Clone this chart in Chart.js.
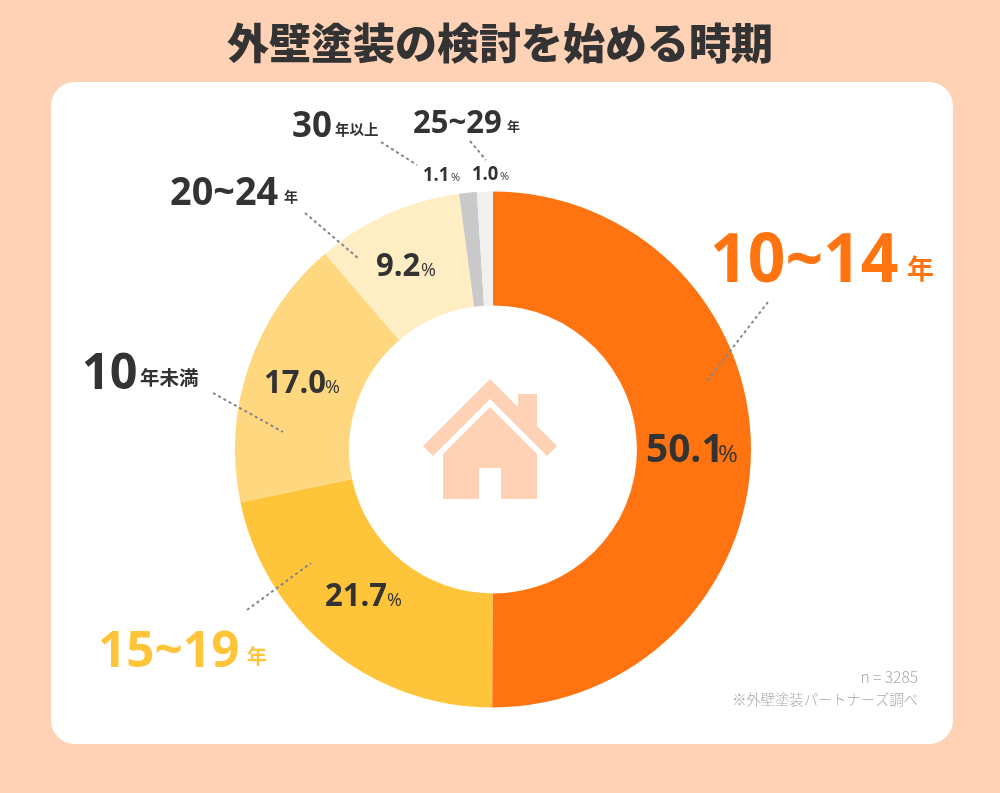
<!DOCTYPE html>
<html lang="ja">
<head>
<meta charset="utf-8">
<script src="https://cdn.jsdelivr.net/npm/chart.js@4"></script>
<style>
  body { margin: 0; background: #ffd2b5; }
  #card { position: absolute; left: 51px; top: 82px; width: 902px; height: 662px; background: #fff; border-radius: 24px; }
  #chart { position: absolute; left: 0; top: 0; }
</style>
</head>
<body>
<div id="card"></div>
<canvas id="chart" width="1000" height="793"></canvas>
<script>
const categories = ["10~14", "15~19", "10", "20~24", "30", "25~29"];
const units = ["年", "年", "年未満", "年", "年以上", "年"];
const values = [50.1, 21.7, 17.0, 9.2, 1.1, 1.0];
const colors = ["#ff7411", "#ffc53a", "#ffd77f", "#ffedc4", "#c9c9c9", "#f0f0f0"];
const titleText = "外壁塗装の検討を始める時期";
const noteLines = ["n = 3285", "※外壁塗装パートナーズ調べ"];

const JP = '"Noto Sans CJK JP", "Noto Sans", sans-serif';
const NUM = '"Open Sans", "Noto Sans", sans-serif';
const DARK = "#333333";
const CONDENSE = 0.97;

// hand placed, the reference labels do not follow the arcs
const nameLayout = [
  { x: 710, y: 282, size: 68, ux: 907, uy: 279, usize: 27, color: "#ff7411" },
  { x: 98, y: 667, size: 51, ux: 247, uy: 664, usize: 20, color: "#ffc53a" },
  { x: 82, y: 389, size: 50, ux: 140, uy: 384.5, usize: 19.5, color: DARK },
  { x: 170, y: 205, size: 39, ux: 284, uy: 202, usize: 14, color: DARK },
  { x: 292, y: 137, size: 36, ux: 335, uy: 135, usize: 14.5, color: DARK },
  { x: 413, y: 133, size: 32, ux: 507, uy: 131, usize: 13, color: DARK },
];
const pctLayout = [
  { x: 646, y: 462, size: 40, px: 718, psize: 24 },
  { x: 325, y: 606, size: 32, px: 387, psize: 18 },
  { x: 264, y: 393, size: 32, px: 325, psize: 18 },
  { x: 376, y: 276, size: 32, px: 421, psize: 18 },
  { x: 423, y: 181, size: 19, px: 451, psize: 11 },
  { x: 472, y: 180, size: 19, px: 500, psize: 11 },
];
const leaders = [
  [768, 302, 707, 381],
  [247, 610, 311, 563],
  [213, 393, 283, 432],
  [305, 213, 358, 258],
  [381, 142, 417, 165],
  [470, 141, 486, 160],
];

function polygon(ctx, pts) {
  ctx.beginPath();
  pts.forEach((p, i) => (i ? ctx.lineTo(p[0], p[1]) : ctx.moveTo(p[0], p[1])));
  ctx.closePath();
  ctx.fill();
}

function drawHouse(ctx) {
  ctx.fillStyle = "#ffd2b5";
  polygon(ctx, [[490, 379], [518, 407], [518, 394], [537, 394], [537, 426], [557, 446], [547, 456], [490, 399], [433, 456], [423, 446]]);
  polygon(ctx, [[490, 407], [537, 454], [537, 499], [501, 499], [501, 468], [479, 468], [479, 499], [443, 499], [443, 454]]);
}

// the reference digits are a little narrower than Open Sans
function condensedText(ctx, text, x, y) {
  ctx.save();
  ctx.translate(x, y);
  ctx.scale(CONDENSE, 1);
  ctx.fillText(text, 0, 0);
  ctx.restore();
}

const overlay = {
  id: "overlay",
  afterDraw(chart) {
    const ctx = chart.ctx;
    ctx.save();
    ctx.textBaseline = "alphabetic";

    ctx.textAlign = "center";
    ctx.fillStyle = DARK;
    ctx.font = "900 42px " + JP;
    ctx.fillText(titleText, 500, 59);

    ctx.strokeStyle = "#80868c";
    ctx.lineWidth = 2;
    ctx.setLineDash([3, 3]);
    leaders.forEach((l) => {
      ctx.beginPath();
      ctx.moveTo(l[0], l[1]);
      ctx.lineTo(l[2], l[3]);
      ctx.stroke();
    });
    ctx.setLineDash([]);

    ctx.textAlign = "left";
    categories.forEach((name, i) => {
      const l = nameLayout[i];
      ctx.fillStyle = l.color;
      ctx.font = "700 " + l.size + "px " + NUM;
      condensedText(ctx, name, l.x, l.y);
      ctx.font = "700 " + l.usize + "px " + JP;
      ctx.fillText(units[i], l.ux, l.uy);
    });

    values.forEach((v, i) => {
      const l = pctLayout[i];
      ctx.fillStyle = DARK;
      ctx.font = "700 " + l.size + "px " + NUM;
      condensedText(ctx, v.toFixed(1), l.x, l.y);
      ctx.font = "400 " + l.psize + "px " + NUM;
      ctx.fillText("%", l.px, l.y);
    });

    ctx.textAlign = "right";
    ctx.fillStyle = "#a8a8a8";
    ctx.font = "300 15.5px " + JP;
    ctx.fillText(noteLines[0], 918, 683);
    ctx.font = "300 14.3px " + JP;
    ctx.fillText(noteLines[1], 918, 705);

    drawHouse(ctx);
    ctx.restore();
  },
};

new Chart(document.getElementById("chart"), {
  type: "doughnut",
  data: {
    labels: categories.map((c, i) => c + units[i]),
    datasets: [{ data: values, backgroundColor: colors, borderWidth: 0 }],
  },
  options: {
    responsive: false,
    animation: false,
    cutout: "55.8%",
    layout: { padding: { left: 235, right: 249, top: 191.5, bottom: 85.5 } },
    plugins: { legend: { display: false }, tooltip: { enabled: false } },
  },
  plugins: [overlay],
});
</script>
</body>
</html>
